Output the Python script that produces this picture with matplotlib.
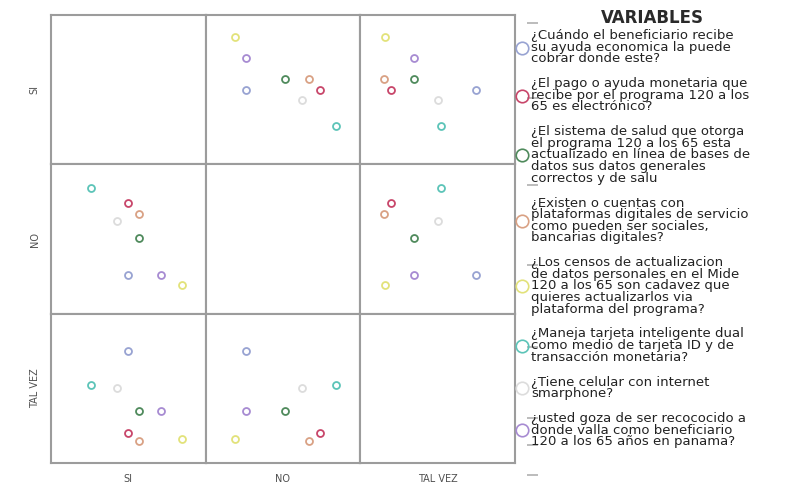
import matplotlib.pyplot as plt
from matplotlib.lines import Line2D

categorias = ["SI", "NO", "TAL VEZ"]

preguntas = [
    "¿Cuándo el beneficiario recibe\nsu ayuda economica la puede\ncobrar donde este?",
    "¿El pago o ayuda monetaria que\nrecibe por el programa 120 a los\n65 es electrónico?",
    "¿El sistema de salud que otorga\nel programa 120 a los 65 esta\nactualizado en línea de bases de\ndatos sus datos generales\ncorrectos y de salu",
    "¿Existen o cuentas con\nplataformas digitales de servicio\ncomo pueden ser sociales,\nbancarias digitales?",
    "¿Los censos de actualizacion\nde datos personales en el Mide\n120 a los 65 son cadavez que\nquieres actualizarlos via\nplataforma del programa?",
    "¿Maneja tarjeta inteligente dual\ncomo medio de tarjeta ID y de\ntransacción monetaria?",
    "¿Tiene celular con internet\nsmarphone?",
    "¿usted goza de ser recococido a\ndonde valla como beneficiario\n120 a los 65 años en panama?",
]

colores = ["#98a3d2", "#c8466a", "#4f8a5c", "#d9a184", "#e2e27a", "#5cc4b8", "#dcdcdc", "#a78bd2"]

# posicion de cada variable en cada categoria (escala 0-100)
val_si = [50, 50, 57, 57, 85, 26, 43, 71]
val_no = [26, 74, 51, 67, 19, 84, 62, 26]
val_talvez = [75, 20, 35, 15, 16, 52, 50, 35]

# marcas sueltas a la derecha del panel (pixeles desde arriba)
marcas_y = [23, 98, 185, 265, 347, 418, 445, 475]

valores = [val_si, val_no, val_talvez]

fig = plt.figure(figsize=(7.96, 4.87), dpi=100)
gs = fig.add_gridspec(3, 3, left=0.064, right=0.647, top=0.969, bottom=0.049,
                      wspace=0, hspace=0)

for i in range(3):
    for j in range(3):
        ax = fig.add_subplot(gs[i, j])
        ax.set_xlim(0, 100)
        ax.set_ylim(0, 100)
        for s in ax.spines.values():
            s.set_color("#9c9c9c")
            s.set_linewidth(1.5)
        ax.set_xticks([])
        ax.set_yticks([])
        if i == 2:
            ax.set_xticks([50])
            ax.set_xticklabels([categorias[j]])
        if j == 0:
            ax.set_yticks([50])
            ax.set_yticklabels([categorias[i]], rotation=90, va="center")
        ax.tick_params(length=0, pad=8, labelsize=7, labelcolor="#505050")
        if i == j:
            continue
        for k in range(len(preguntas)):
            ax.plot(valores[j][k], valores[i][k], "o", mfc="none", mec=colores[k],
                    ms=5, mew=1.3)

# marcas decorativas
deco = fig.add_axes([527 / 796, 0, 0.001, 1])
deco.set_ylim(487, 0)
deco.set_yticks(marcas_y)
deco.set_yticklabels([])
deco.set_xticks([])
deco.tick_params(axis="y", direction="in", length=8, width=1.2, color="#b0b0b0")
for s in deco.spines.values():
    s.set_visible(False)
deco.patch.set_alpha(0)

fig.text(0.82, 0.963, "VARIABLES", ha="center", va="center", fontsize=12,
         fontweight="bold", color="#2a2a2a")

handles = [Line2D([], [], ls="none", marker="o", mfc="none", mec=c, ms=9, mew=1.2)
           for c in colores]
leg = fig.legend(handles, preguntas, loc="upper left", bbox_to_anchor=(0.648, 0.943),
                 frameon=False, fontsize=9.5, handlelength=0.8, handletextpad=0.25,
                 labelspacing=0.9, borderpad=0.1, borderaxespad=0)
for t in leg.get_texts():
    t.set_linespacing(0.86)
    t.set_color("#222222")

fig.savefig("out.png", dpi=100)
